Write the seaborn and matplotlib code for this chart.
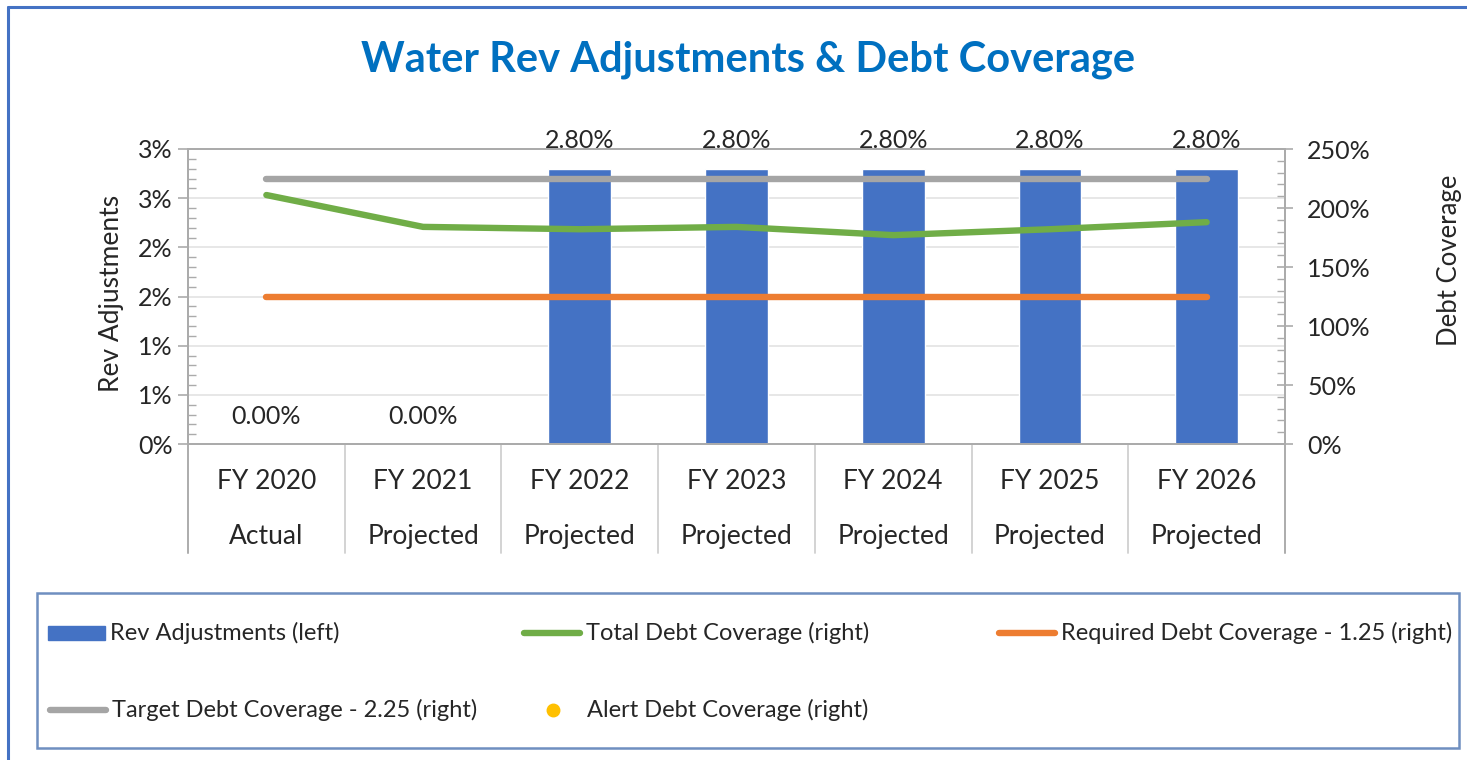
import numpy as np
import pandas as pd
import matplotlib
matplotlib.use("Agg")
import matplotlib.pyplot as plt
import matplotlib.transforms as mtransforms
from matplotlib.patches import Rectangle
from matplotlib.lines import Line2D
import seaborn as sns

# ---------------- data ----------------
fiscal_years = ["FY 2020", "FY 2021", "FY 2022", "FY 2023", "FY 2024", "FY 2025", "FY 2026"]
year_status = ["Actual", "Projected", "Projected", "Projected", "Projected", "Projected", "Projected"]
rev_adjustments = [0.0, 0.0, 2.8, 2.8, 2.8, 2.8, 2.8]            # % (left axis)
total_debt_cov = [211, 184, 182, 184, 177, 182, 188]              # % (right axis)
required_debt_cov = [125, 125, 125, 125, 125, 125, 125]           # %
target_debt_cov = [225, 225, 225, 225, 225, 225, 225]             # %
alert_debt_cov = [np.nan, np.nan, np.nan, np.nan, np.nan, np.nan, np.nan]
left_ticks = [0, 0.5, 1.0, 1.5, 2.0, 2.5, 3.0]
left_tick_labels = ["0%", "1%", "1%", "2%", "2%", "3%", "3%"]
right_ticks = [0, 50, 100, 150, 200, 250]
right_tick_labels = ["0%", "50%", "100%", "150%", "200%", "250%"]
bar_labels = ["0.00%", "0.00%", "2.80%", "2.80%", "2.80%", "2.80%", "2.80%"]

legend_labels = ["Rev Adjustments (left)", "Total Debt Coverage (right)",
                 "Required Debt Coverage - 1.25 (right)",
                 "Target Debt Coverage - 2.25 (right)", "Alert Debt Coverage (right)"]

# ---------------- style ----------------
BLUE = "#4472C4"
GREEN = "#70AD47"
ORANGE = "#ED7D31"
GRAY = "#A5A5A5"
GOLD = "#FFC000"
TXT = "#262626"
AXC = "#ABABAB"

sns.set_theme(style="white")
plt.rcParams["font.family"] = ["Lato", "DejaVu Sans"]

W, H = 1467, 760
fig = plt.figure(figsize=(W / 100, H / 100), dpi=100)


def fx(px):
    return px / W


def fy(py):
    return 1 - py / H


L, R, T, B = 188, 1285, 149, 444
ax = fig.add_axes([fx(L), fy(B), fx(R) - fx(L), fy(T) - fy(B)])

df = pd.DataFrame({"year": fiscal_years, "rev": rev_adjustments})
sns.barplot(data=df, x="year", y="rev", color=BLUE, width=0.40, saturation=1,
            ax=ax, zorder=2)
ax.set_xlim(-0.5, len(fiscal_years) - 0.5)
ax.set_ylim(0, 3.0)
ax.set_yticks(left_ticks)
ax.set_yticklabels(left_tick_labels)
ax.set_xticks([])
ax.set_xlabel("")
ax.set_ylabel("Rev Adjustments", fontsize=19, color=TXT)
ax.yaxis.set_label_coords((124 - L) / (R - L), (B - 293) / (B - T))
ax.yaxis.grid(True, color="#E3E3E3", lw=1.2, zorder=0)
ax.set_axisbelow(True)
ax.tick_params(axis="y", which="major", direction="out", length=7, width=1.2,
               color=AXC, labelsize=18, labelcolor=TXT, pad=4, left=True)
ax.set_yticks(np.arange(0, 3.0001, 0.1), minor=True)
ax.tick_params(axis="y", which="minor", direction="in", length=6, width=1.0,
               color=AXC, left=True)
for s in ["left", "right", "top", "bottom"]:
    ax.spines[s].set_visible(True)
    ax.spines[s].set_color(AXC)
    ax.spines[s].set_linewidth(1.3)

# bar data labels
for i, (v, lab) in enumerate(zip(rev_adjustments, bar_labels)):
    ax.annotate(lab, (i, v), xytext=(0, 20), textcoords="offset points",
                ha="center", va="center", fontsize=18, color=TXT,
                annotation_clip=False)

# category axis (two levels + separators)
trans = mtransforms.blended_transform_factory(ax.transData, ax.transAxes)
sep_bottom = (B - 553) / (B - T)
for k in range(len(fiscal_years) + 1):
    ax.add_line(Line2D([k - 0.5, k - 0.5], [0, sep_bottom], transform=trans,
                       color="#D0D0D0", lw=1.3, clip_on=False))
row1 = (B - 481) / (B - T)
row2 = (B - 536) / (B - T)
for i, (fy_, st) in enumerate(zip(fiscal_years, year_status)):
    ax.text(i, row1, fy_, transform=trans, ha="center", va="center",
            fontsize=19, color=TXT)
    ax.text(i, row2, st, transform=trans, ha="center", va="center",
            fontsize=19, color=TXT)

# secondary axis lines
ax2 = ax.twinx()
xs = np.arange(len(fiscal_years))
lw = 4.6
sns.lineplot(x=xs, y=target_debt_cov, ax=ax2, color=GRAY, lw=lw,
             solid_capstyle="round")
sns.lineplot(x=xs, y=total_debt_cov, ax=ax2, color=GREEN, lw=lw,
             solid_capstyle="round")
sns.lineplot(x=xs, y=required_debt_cov, ax=ax2, color=ORANGE, lw=lw,
             solid_capstyle="round")
ax2.plot(xs, alert_debt_cov, "o", color=GOLD, ms=9)
ax2.set_xlim(-0.5, len(fiscal_years) - 0.5)
ax2.set_ylim(0, 250)
ax2.set_yticks(right_ticks)
ax2.set_yticklabels(right_tick_labels)
ax2.set_yticks(np.arange(0, 250.01, 10), minor=True)
ax2.tick_params(axis="y", which="major", direction="inout", length=12, width=1.2,
                color=AXC, labelsize=18, labelcolor=TXT, pad=10, right=True)
ax2.tick_params(axis="y", which="minor", direction="in", length=6, width=1.0,
                color=AXC, right=True)
ax2.grid(False)
ax2.set_ylabel("Debt Coverage", fontsize=18.5, color=TXT)
ax2.yaxis.set_label_coords((1437 - L) / (R - L), (B - 260) / (B - T))
for s in ["left", "right", "top", "bottom"]:
    ax2.spines[s].set_visible(True)
    ax2.spines[s].set_color(AXC)
    ax2.spines[s].set_linewidth(1.3)
ax2.spines["right"].set_bounds(0, 250)
ax2.add_line(Line2D([len(fiscal_years) - 0.5] * 2, [0, sep_bottom], transform=trans,
                    color=AXC, lw=1.3, clip_on=False))
ax.add_line(Line2D([-0.5, -0.5], [0, sep_bottom], transform=trans,
                   color=AXC, lw=1.3, clip_on=False))

# title
fig.text(fx(748), fy(60), "Water Rev Adjustments & Debt Coverage",
         ha="center", va="center", fontsize=30, fontweight="bold", color="#0070C0")

# outer frame (top & left edges)
fig.add_artist(Line2D([fx(8), 1], [fy(7), fy(7)], color=BLUE, lw=2.2))
fig.add_artist(Line2D([fx(8), fx(8)], [fy(7), 0], color=BLUE, lw=2.2))

# legend box
fig.add_artist(Rectangle((fx(37), fy(748)), fx(1459) - fx(37), fy(593) - fy(748),
                         fill=False, edgecolor="#6F8FC0", lw=1.8))
r1, r2 = fy(633), fy(710)
fs_leg = 17
fig.add_artist(Rectangle((fx(48), fy(640)), fx(105) - fx(48), fy(626) - fy(640),
                         color=BLUE))
fig.text(fx(110), r1, legend_labels[0], va="center", fontsize=fs_leg, color=TXT)
fig.add_artist(Line2D([fx(524), fx(580)], [r1, r1], color=GREEN, lw=lw,
                      solid_capstyle="round"))
fig.text(fx(586), r1, legend_labels[1], va="center", fontsize=fs_leg, color=TXT)
fig.add_artist(Line2D([fx(999), fx(1055)], [r1, r1], color=ORANGE, lw=lw,
                      solid_capstyle="round"))
fig.text(fx(1061), r1, legend_labels[2], va="center", fontsize=fs_leg, color=TXT)
fig.add_artist(Line2D([fx(50), fx(106)], [r2, r2], color=GRAY, lw=lw,
                      solid_capstyle="round"))
fig.text(fx(112), r2, legend_labels[3], va="center", fontsize=fs_leg, color=TXT)
fig.add_artist(Line2D([fx(553)], [r2], marker="o", color=GOLD, ms=9, lw=0))
fig.text(fx(587), r2, legend_labels[4], va="center", fontsize=fs_leg, color=TXT)

fig.savefig("out.png", dpi=100, facecolor="white")
